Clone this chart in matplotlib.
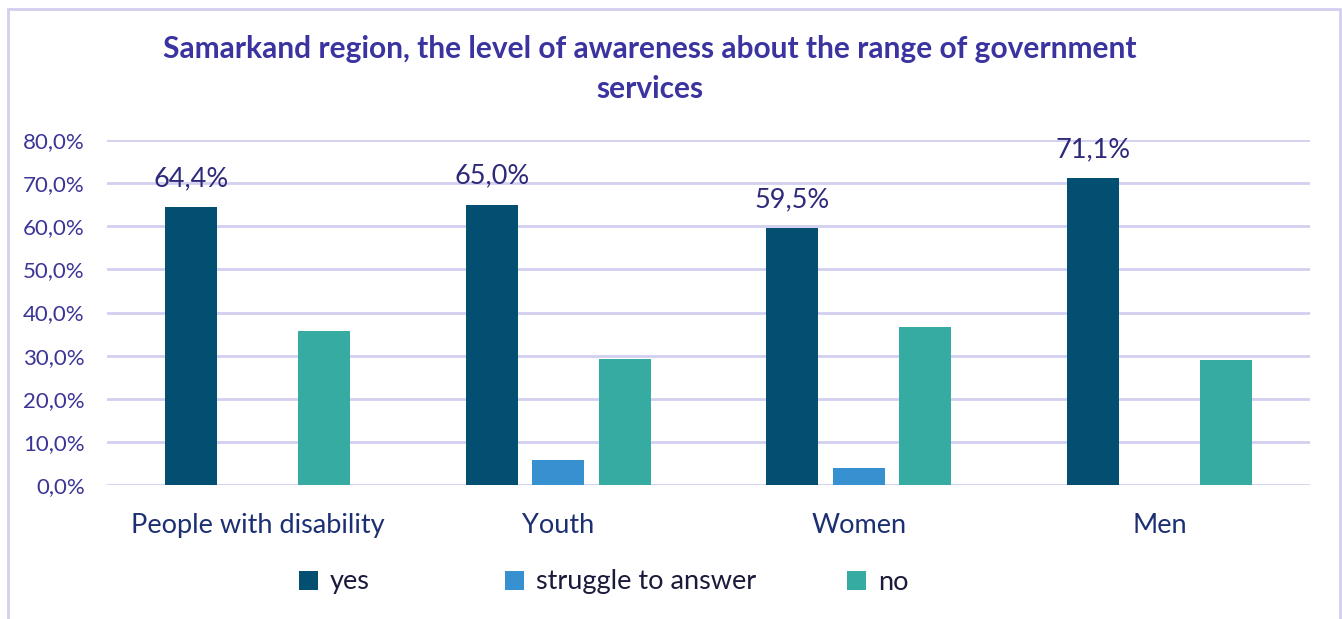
import numpy as np
import matplotlib.pyplot as plt
from matplotlib.ticker import FuncFormatter
from matplotlib.patches import Rectangle

groups = ["People with disability", "Youth", "Women", "Men"]
series = ["yes", "struggle to answer", "no"]
yes_vals = [64.4, 65.0, 59.5, 71.1]
struggle_vals = [0.0, 5.8, 3.9, 0.0]
no_vals = [35.6, 29.2, 36.6, 28.9]

colors = ["#034f72", "#3790cf", "#36aba2"]
grid_col = "#d3cff0"
tick_col = "#3b3596"
font = "Lato"

plt.rcParams['font.family'] = [font, 'DejaVu Sans']

fig = plt.figure(figsize=(13.42, 6.19), dpi=100)
ax = fig.add_axes([107/1342, 1 - 485/619, (1310-107)/1342, (485-140)/619])

# outer frame around the chart
fig.patches.append(Rectangle((8/1342, -0.05), 1332/1342, 1.05 - 9/619,
                             transform=fig.transFigure, fill=False,
                             edgecolor=grid_col, linewidth=2))

x = np.arange(len(groups))
w = 0.173
off = 0.221
vals = [np.array(yes_vals) / 100, np.array(struggle_vals) / 100, np.array(no_vals) / 100]
bars = []
for i, (v, c, name) in enumerate(zip(vals, colors, series)):
    b = ax.bar(x + (i - 1) * off, v, width=w, color=c, label=name, zorder=3)
    bars.append(b)

for rect, v in zip(bars[0], yes_vals):
    ax.text(rect.get_x() + rect.get_width() / 2, v / 100 + 0.037,
            f"{v:.1f}%".replace(".", ","), ha="center", va="bottom",
            fontsize=19.5, color="#2e2a7a")

ax.set_xlim(-0.5, 3.5)
ax.set_ylim(0, 0.8)
ax.set_yticks(np.arange(0, 0.81, 0.1))
ax.yaxis.set_major_formatter(FuncFormatter(lambda y, p: f"{y*100:.1f}%".replace(".", ",")))
ax.grid(axis="y", color=grid_col, linewidth=2, zorder=0)
ax.set_axisbelow(True)
for s in ax.spines.values():
    s.set_visible(False)
ax.tick_params(axis="y", length=0, pad=16, labelsize=16, labelcolor=tick_col)
ax.set_xticks(x)
ax.set_xticklabels(groups)
ax.tick_params(axis="x", length=0, pad=20, labelsize=19.5, labelcolor="#1c2f72")

fig.text(650/1342, 1 - 69/619,
         "Samarkand region, the level of awareness about the range of government\nservices",
         ha="center", va="center", fontsize=21.5, fontweight="bold",
         color="#3a33a0", linespacing=1.5)

# legend entries placed one by one, like the spreadsheet layout
leg_x = [299, 505, 847]
for b, name, lx in zip(bars, series, leg_x):
    lg = fig.legend([b], [name], loc="center left",
                    bbox_to_anchor=(lx/1342, 1 - 582/619), frameon=False,
                    fontsize=19.5, handlelength=0.7, handleheight=0.7,
                    handletextpad=0.45, borderpad=0, borderaxespad=0,
                    labelcolor="#1a1a3a")

fig.savefig("out.png", dpi=100)
